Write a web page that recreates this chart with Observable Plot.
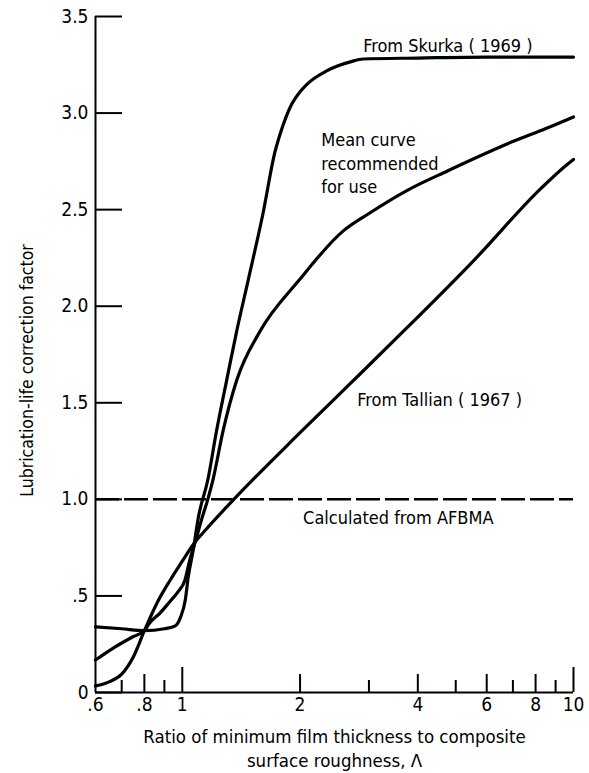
<!DOCTYPE html>
<html><head><meta charset="utf-8">
<script src="https://cdn.jsdelivr.net/npm/d3@7"></script>
<script src="https://cdn.jsdelivr.net/npm/@observablehq/plot@0.6"></script>
<style>body{margin:0;background:#fff}</style>
</head><body><div id="chart"></div>
<script>
// Lambda values and correction factors
const skurkaX = [0.6, 0.7, 0.8, 0.9, 0.96, 0.99, 1.018, 1.036, 1.067, 1.1, 1.162, 1.224, 1.298, 1.377, 1.472, 1.608, 1.726, 1.778, 1.887, 2.0, 2.085, 2.347, 2.688, 2.9, 4.0, 6.0, 8.0, 10];
const skurkaY = [0.34, 0.33, 0.32, 0.33, 0.345, 0.39, 0.48, 0.60, 0.74, 0.91, 1.10, 1.357, 1.615, 1.87, 2.13, 2.48, 2.80, 2.89, 3.03, 3.11, 3.15, 3.22, 3.265, 3.28, 3.285, 3.29, 3.29, 3.29];

const meanX = [0.6, 0.666, 0.75, 0.8, 0.825, 0.876, 0.929, 0.974, 1.015, 1.045, 1.083, 1.122, 1.162, 1.197, 1.272, 1.377, 1.58, 1.98, 2.58, 3.0, 3.76, 4.76, 7.05, 8.5, 10];
const meanY = [0.168, 0.23, 0.29, 0.32, 0.36, 0.41, 0.47, 0.52, 0.58, 0.685, 0.79, 0.90, 1.0, 1.098, 1.357, 1.615, 1.87, 2.13, 2.39, 2.48, 2.60, 2.70, 2.855, 2.92, 2.98];

const tallianX = [0.6, 0.65, 0.7, 0.75, 0.8, 0.86, 0.93, 1.0, 1.07, 1.145, 1.347, 2.0, 2.69, 3.76, 5.55, 8.26, 9.65, 10];
const tallianY = [0.034, 0.055, 0.095, 0.185, 0.32, 0.46, 0.58, 0.68, 0.77, 0.84, 0.995, 1.345, 1.60, 1.89, 2.235, 2.61, 2.735, 2.76];

const afbmaValue = [1.0];

const yTickValues = [0, 0.5, 1, 1.5, 2, 2.5, 3, 3.5];
const yTickLabels = ["0", ".5", "1.0", "1.5", "2.0", "2.5", "3.0", "3.5"];
const xTickValues = [0.6, 0.8, 1, 2, 4, 6, 8, 10];
const xTickLabels = [".6", ".8", "1", "2", "4", "6", "8", "10"];
const xTicksLong = [1, 10];
const xTicksMid = [0.8, 2, 4, 6, 8];
const xTicksShort = [0.7, 0.9, 3, 5, 7, 9];

const annotations = [
  {x: 2.90, y: 3.357, text: "From Skurka ( 1969 )"},
  {x: 2.265, y: 2.745, text: "Mean curve\nrecommended\nfor use"},
  {x: 2.80, y: 1.522, text: "From Tallian ( 1967 )"},
  {x: 2.036, y: 0.909, text: "Calculated from AFBMA"}
];
const xTitle = "Ratio of minimum film thickness to composite\nsurface roughness, \u039b";
const yTitle = "Lubrication-life correction factor";

const toRows = (xs, ys) => xs.map((x, i) => ({x, y: ys[i]}));
const skurka = toRows(skurkaX, skurkaY);
const mean = toRows(meanX, meanY);
const tallian = toRows(tallianX, tallianY);

const W = 589, H = 773, mL = 95, mR = 16, mT = 16, mB = 81;
const plotW = W - mL - mR, plotH = H - mT - mB;
const font = "'DejaVu Sans Condensed', 'DejaVu Sans', sans-serif";

const chart = Plot.plot({
  width: W, height: H,
  marginLeft: mL, marginRight: mR, marginTop: mT, marginBottom: mB,
  style: {fontFamily: font, background: "white", color: "black"},
  x: {type: "log", domain: [0.6, 10], axis: null},
  y: {domain: [0, 3.5], axis: null},
  marks: [
    Plot.text(yTickValues, {y: d => d, frameAnchor: "left", textAnchor: "end", dx: -7,
      text: d => yTickLabels[yTickValues.indexOf(d)], fontSize: 19, fill: "black"}),
    Plot.text(xTickValues, {x: d => d, frameAnchor: "bottom", lineAnchor: "top", dy: 5,
      text: d => xTickLabels[xTickValues.indexOf(d)], fontSize: 19, fill: "black"}),
    Plot.tickY(yTickValues, {y: d => d, insetRight: plotW - 27, strokeWidth: 2}),
    Plot.tickX(xTicksLong, {x: d => d, insetTop: plotH - 25, strokeWidth: 2}),
    Plot.tickX(xTicksMid, {x: d => d, insetTop: plotH - 18, strokeWidth: 2}),
    Plot.tickX(xTicksShort, {x: d => d, insetTop: plotH - 12, strokeWidth: 2}),
    Plot.ruleX([0.6], {strokeWidth: 2}),
    Plot.ruleY([0], {strokeWidth: 2}),
    Plot.ruleY(afbmaValue, {strokeWidth: 2.5, strokeDasharray: "24,5"}),
    Plot.line(skurka, {x: "x", y: "y", curve: "monotone-x", strokeWidth: 3.2, stroke: "black"}),
    Plot.line(mean, {x: "x", y: "y", curve: "monotone-x", strokeWidth: 3.2, stroke: "black"}),
    Plot.line(tallian, {x: "x", y: "y", curve: "monotone-x", strokeWidth: 3.2, stroke: "black"}),
    Plot.text(annotations, {x: "x", y: "y", text: "text", textAnchor: "start", fontSize: 18, lineHeight: 1.3, fill: "black"}),
    Plot.text([xTitle], {frameAnchor: "bottom", lineAnchor: "middle", dy: 55, text: d => d, fontSize: 18.5, lineHeight: 1.28, fill: "black"}),
    Plot.text([yTitle], {frameAnchor: "left", textAnchor: "middle", dx: -68, dy: 16, text: d => d, rotate: -90, fontSize: 17.5, fill: "black"})
  ]
});
document.getElementById("chart").appendChild(chart);
</script>
</body></html>
